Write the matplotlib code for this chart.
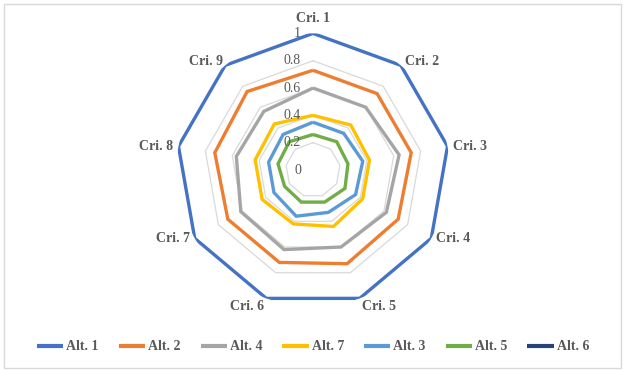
import numpy as np
import matplotlib
matplotlib.use("Agg")
import matplotlib.pyplot as plt
from matplotlib.patches import Rectangle

criteria = ["Cri. 1", "Cri. 2", "Cri. 3", "Cri. 4", "Cri. 5", "Cri. 6", "Cri. 7", "Cri. 8", "Cri. 9"]
series_names = ["Alt. 1", "Alt. 2", "Alt. 4", "Alt. 7", "Alt. 3", "Alt. 5", "Alt. 6"]
alt1 = [1.0, 1.0, 1.0, 1.0, 1.0, 1.0, 1.0, 1.0, 1.0]
alt2 = [0.73, 0.73, 0.73, 0.72, 0.73, 0.72, 0.72, 0.73, 0.75]
alt4 = [0.60, 0.60, 0.64, 0.62, 0.60, 0.62, 0.61, 0.57, 0.56]
alt7 = [0.40, 0.43, 0.42, 0.42, 0.44, 0.42, 0.43, 0.43, 0.44]
alt3 = [0.35, 0.35, 0.37, 0.36, 0.33, 0.36, 0.33, 0.33, 0.34]
alt5 = [0.26, 0.27, 0.26, 0.27, 0.25, 0.25, 0.24, 0.26, 0.27]
alt6 = [0.0, 0.0, 0.0, 0.0, 0.0, 0.0, 0.0, 0.0, 0.0]
radial_ticks = [0, 0.2, 0.4, 0.6, 0.8, 1]
radial_labels = ["0", "0.2", "0.4", "0.6", "0.8", "1"]

series = [alt1, alt2, alt4, alt7, alt3, alt5, alt6]
colors = ["#4472C4", "#ED7D31", "#A5A5A5", "#FFC000", "#5B9BD5", "#70AD47", "#264478"]

plt.rcParams['font.family'] = ['Liberation Serif', 'DejaVu Serif']
text_color = "#595959"

W, H = 626, 374
fig = plt.figure(figsize=(W / 100, H / 100), dpi=100)

cx, cy, R = 313, 170, 136.6
ax = fig.add_axes([(cx - R) / W, (H - cy - R) / H, 2 * R / W, 2 * R / H], projection='polar')
ax.set_theta_zero_location('N')
ax.set_theta_direction(-1)
ax.set_ylim(0, 1)
ax.set_xticks([])
ax.set_yticks([])
ax.grid(False)
ax.spines['polar'].set_visible(False)
ax.patch.set_visible(False)

n = len(criteria)
theta = np.linspace(0, 2 * np.pi, n, endpoint=False)
theta_c = np.append(theta, theta[0])

# polygon gridlines
for r in radial_ticks[1:]:
    ax.plot(theta_c, [r] * (n + 1), color="#D9D9D9", lw=0.9, zorder=1)

for name, vals, col in zip(series_names, series, colors):
    v = np.append(vals, vals[0])
    ax.plot(theta_c, v, color=col, lw=2.4, label=name, zorder=3,
            solid_joinstyle='miter', solid_capstyle='butt')

# radial labels
for r, lab in zip(radial_ticks, radial_labels):
    ax.annotate(lab, xy=(0, r), xytext=(-12, 0), textcoords='offset pixels',
                ha='right', va='center', fontsize=10, color=text_color, zorder=5)

# category labels
offsets = [(0, 15), (4, 4), (5, 0), (5, 0), (2, -8), (-2, -8), (-5, 0), (-5, 0), (-2, 4)]
for t, lab, off in zip(theta, criteria, offsets):
    s = np.sin(t)
    ha = 'left' if s > 0.05 else ('right' if s < -0.05 else 'center')
    ax.annotate(lab, xy=(t, 1.0), xytext=off, textcoords='offset pixels',
                ha=ha, va='center', fontsize=10, fontweight='bold', color=text_color)

handles, labels = ax.get_legend_handles_labels()
leg = fig.legend(handles, labels, loc='center', bbox_to_anchor=(0.5, 1 - 347 / H), ncol=7,
                 frameon=False, handlelength=1.9, handletextpad=0.2, columnspacing=1.45,
                 prop={'size': 10, 'weight': 'bold'})
for t in leg.get_texts():
    t.set_color(text_color)
for l in leg.get_lines():
    l.set_linewidth(3)

fig.patches.append(Rectangle((4 / W, 1 - 368 / H), 617 / W, 364 / H, transform=fig.transFigure,
                             fill=False, edgecolor="#D9D9D9", lw=1))

fig.savefig("out.png", dpi=100)
